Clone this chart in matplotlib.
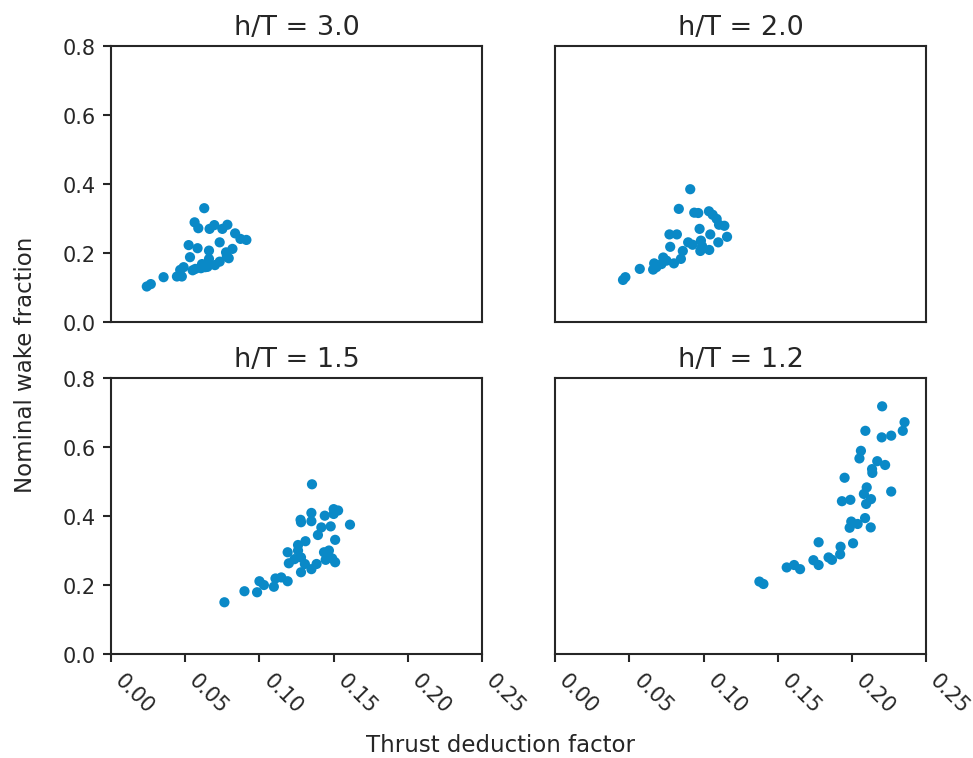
import matplotlib.pyplot as plt

# h/T = 3.0
t30 = [0.0628, 0.0563, 0.0588, 0.0664, 0.0696, 0.0750, 0.0784, 0.0836, 0.0872, 0.0912,
       0.0523, 0.0583, 0.0732, 0.0660, 0.0818, 0.0775, 0.0532, 0.0660, 0.0793, 0.0732,
       0.0613, 0.0489, 0.0635, 0.0466, 0.0568, 0.0606, 0.0650, 0.0444, 0.0477, 0.0354,
       0.0268, 0.0241, 0.0780, 0.0700, 0.0550]
w30 = [0.330, 0.289, 0.272, 0.270, 0.281, 0.270, 0.282, 0.257, 0.241, 0.238,
       0.223, 0.214, 0.231, 0.207, 0.212, 0.202, 0.188, 0.183, 0.185, 0.175,
       0.168, 0.159, 0.159, 0.151, 0.154, 0.156, 0.160, 0.132, 0.132, 0.130,
       0.110, 0.103, 0.190, 0.165, 0.150]

# h/T = 2.0
t20 = [0.0910, 0.0833, 0.0937, 0.0964, 0.1036, 0.1061, 0.1088, 0.1104, 0.1140, 0.1158,
       0.0973, 0.0770, 0.0820, 0.1045, 0.0775, 0.0896, 0.0926, 0.0982, 0.0978, 0.1038,
       0.1099, 0.0860, 0.0847, 0.0800, 0.0728, 0.0716, 0.0667, 0.0682, 0.0660, 0.0570,
       0.0473, 0.0457, 0.0990, 0.0750]
w20 = [0.385, 0.328, 0.317, 0.316, 0.321, 0.311, 0.299, 0.282, 0.279, 0.247,
       0.270, 0.254, 0.254, 0.254, 0.218, 0.231, 0.224, 0.236, 0.206, 0.209,
       0.231, 0.206, 0.183, 0.170, 0.187, 0.168, 0.170, 0.159, 0.152, 0.154,
       0.130, 0.122, 0.220, 0.178]

# h/T = 1.5
t15 = [0.1354, 0.1500, 0.1530, 0.1500, 0.1440, 0.1350, 0.1277, 0.1350, 0.1480, 0.1610,
       0.1417, 0.1394, 0.1510, 0.1310, 0.1260, 0.1190, 0.1260, 0.1435, 0.1468, 0.1460,
       0.1490, 0.1510, 0.1280, 0.1236, 0.1198, 0.1306, 0.1385, 0.1446, 0.1350, 0.1280,
       0.1108, 0.1147, 0.1190, 0.1000, 0.1030, 0.1097, 0.0899, 0.0984, 0.0764, 0.1280]
w15 = [0.492, 0.420, 0.416, 0.406, 0.401, 0.409, 0.389, 0.385, 0.370, 0.375,
       0.367, 0.345, 0.331, 0.327, 0.316, 0.295, 0.300, 0.295, 0.300, 0.287,
       0.277, 0.266, 0.280, 0.275, 0.263, 0.261, 0.261, 0.273, 0.246, 0.237,
       0.219, 0.222, 0.211, 0.211, 0.200, 0.195, 0.182, 0.179, 0.150, 0.382]

# h/T = 1.2
t12 = [0.2203, 0.2354, 0.2342, 0.2090, 0.2264, 0.2200, 0.2060, 0.2050, 0.2170, 0.2223,
       0.2135, 0.2137, 0.1950, 0.2099, 0.2264, 0.2080, 0.2128, 0.2095, 0.1932, 0.1989,
       0.2088, 0.1995, 0.2038, 0.1984, 0.2126, 0.1775, 0.2007, 0.1923, 0.1920, 0.1842,
       0.1865, 0.1740, 0.1775, 0.1560, 0.1610, 0.1650, 0.1376, 0.1403]
w12 = [0.718, 0.672, 0.647, 0.647, 0.633, 0.628, 0.589, 0.567, 0.559, 0.548,
       0.536, 0.525, 0.511, 0.483, 0.471, 0.464, 0.449, 0.435, 0.443, 0.447,
       0.394, 0.384, 0.377, 0.366, 0.367, 0.324, 0.321, 0.311, 0.289, 0.280,
       0.273, 0.272, 0.258, 0.251, 0.258, 0.246, 0.210, 0.203]

titles = ['h/T = 3.0', 'h/T = 2.0', 'h/T = 1.5', 'h/T = 1.2']
series = [(t30, w30), (t20, w20), (t15, w15), (t12, w12)]

plt.rcParams['font.family'] = 'DejaVu Sans'
plt.rcParams['text.color'] = '#262626'
plt.rcParams['xtick.color'] = '#262626'
plt.rcParams['ytick.color'] = '#262626'

fig, axes = plt.subplots(2, 2, sharex=True, sharey=True, figsize=(6.493, 5.06), dpi=150)
fig.subplots_adjust(left=0.114, right=0.951, top=0.938, bottom=0.137, wspace=0.197, hspace=0.203)

for i, ax in enumerate(axes.flat):
    x, y = series[i]
    ax.scatter(x, y, s=24, color='#0a89c7', edgecolors='none')
    ax.set_title(titles[i], fontsize=13)
    ax.set_xlim(0, 0.25)
    ax.set_ylim(0, 0.8)
    for sp in ax.spines.values():
        sp.set_color('#262626')
        sp.set_linewidth(1.0)
    ax.tick_params(labelsize=10, length=4, width=1)
    row, col = divmod(i, 2)
    if row == 0:
        ax.tick_params(axis='x', bottom=False)
    if col == 1:
        ax.tick_params(axis='y', left=False)

ax = axes[1, 0]
ax.set_xticks([0, 0.05, 0.10, 0.15, 0.20, 0.25])
ax.set_yticks([0, 0.2, 0.4, 0.6, 0.8])
for a in axes[1]:
    a.set_xticklabels(['0.00', '0.05', '0.10', '0.15', '0.20', '0.25'], rotation=-45, ha='left')

fig.text(0.514, 0.018, 'Thrust deduction factor', ha='center', va='center', fontsize=11)
fig.text(0.026, 0.519, 'Nominal wake fraction', ha='center', va='center', rotation=90, fontsize=11)

fig.savefig('out.png', dpi=150)
